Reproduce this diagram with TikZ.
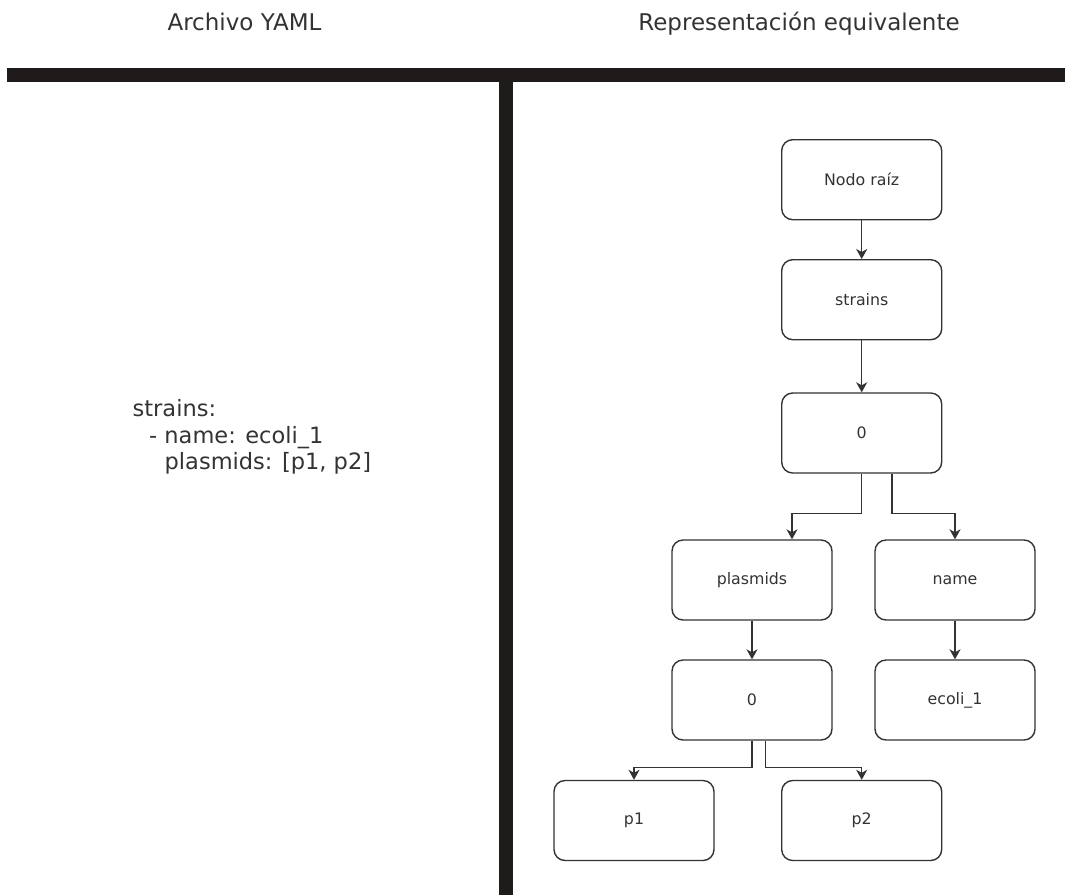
\documentclass[tikz,border=0pt]{standalone}
\usepackage{fontspec}
\setmainfont{DejaVu Sans}
\usetikzlibrary{arrows.meta}
\definecolor{ink}{HTML}{333333}
\definecolor{barcol}{HTML}{1F1B1B}
\tikzset{
  treebox/.style={draw=ink, line width=1.4pt, rounded corners=11pt, minimum width=160pt, minimum height=80pt, inner sep=0pt, text=ink, font=\fontsize{15.8}{19}\selectfont},
  arr/.style={draw=ink, line width=1.4pt, -{Stealth[length=10pt,width=11pt,inset=3pt]}},
  titletext/.style={anchor=base, inner sep=0pt, text=ink, font=\fontsize{23}{28}\selectfont},
  yamltext/.style={anchor=base west, inner sep=0pt, text=ink, font=\fontsize{22.5}{30}\selectfont},
}
\begin{document}
\begin{tikzpicture}[x=1pt, y=-1pt]
\useasboundingbox (0,0) rectangle (1065,895);
% bars
\fill[barcol] (7,68.3) rectangle (1065,81.7);
\fill[barcol] (499,81) rectangle (513.3,895);
% titles
\node[titletext] (t1) at (244.5,30) {Archivo YAML};
\node[titletext] (t2) at (799,30) {Representación equivalente};
% yaml
\node[yamltext] (y1) at (132.5,416.7) {strains:};
\node[yamltext] (y2) at (149,443) {- name: ecoli\_1};
\node[yamltext] (y3) at (164.5,469) {plasmids: [p1, p2]};
% tree
\node[treebox] (root) at (861.7,179.7) {Nodo raíz};
\node[treebox] (strains) at (861.7,299.7) {strains};
\node[treebox] (zero) at (861.7,433) {0};
\node[treebox] (plasmids) at (752,580) {plasmids};
\node[treebox] (name) at (955,580) {name};
\node[treebox] (zeroB) at (752,700) {0};
\node[treebox] (ecoli) at (955,700) {ecoli\_1};
\node[treebox] (p1) at (634,820.5) {p1};
\node[treebox] (p2) at (861.7,820.5) {p2};
% connectors
\draw[arr] (root) -- (strains);
\draw[arr] (strains) -- (zero);
\draw[arr] (zero.south) -- ++(0,40) -| ([xshift=40pt]plasmids.north);
\draw[arr] ([xshift=30.3pt]zero.south) -- ++(0,40) -| (name.north);
\draw[arr] (plasmids) -- (zeroB);
\draw[arr] (name) -- (ecoli);
\draw[arr] (zeroB.south) -- ++(0,27) -| (p1.north);
\draw[arr] ([xshift=13.7pt]zeroB.south) -- ++(0,27) -| (p2.north);
\end{tikzpicture}
\end{document}
